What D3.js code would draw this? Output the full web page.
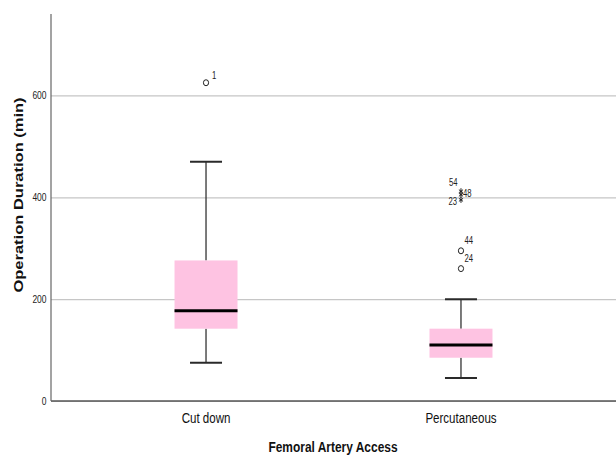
<!DOCTYPE html>
<html><head><meta charset="utf-8">
<script src="https://cdn.jsdelivr.net/npm/d3@7"></script>
<style>html,body{margin:0;padding:0;background:#fff;}svg{display:block;}</style>
</head><body><svg id="c" width="616" height="455"></svg>
<script>
// ---- data ----
const categories = ["Cut down", "Percutaneous"];
const whiskerLow = [75, 45];
const q1 = [142, 85];
const median = [177, 110];
const q3 = [276, 142];
const whiskerHigh = [470, 200];
const outlierCategory = ["Cut down", "Percutaneous", "Percutaneous", "Percutaneous", "Percutaneous", "Percutaneous"];
const outlierValue = [625, 295, 260, 412, 405, 395];
const outlierCase = ["1", "44", "24", "54", "48", "23"];
const outlierKind = ["mild", "mild", "mild", "extreme", "extreme", "extreme"];
const yTicks = [0, 200, 400, 600];
const yTitle = "Operation Duration (min)";
const xTitle = "Femoral Artery Access";

// ---- label placement (layout only) ----
const labelPlacement = {
  "1":  {dx: 6,   dy: -4,  anchor: "start"},
  "44": {dx: 3.5, dy: -7,  anchor: "start"},
  "24": {dx: 3.5, dy: -7,  anchor: "start"},
  "54": {dx: -3.5,dy: -5,  anchor: "end"},
  "48": {dx: 2,   dy: 2,   anchor: "start"},
  "23": {dx: -4,  dy: 5,   anchor: "end"}
};

const svg = d3.select("#c");
const W = 616, H = 455;
const L = 51, R = 616, T = 14, B = 401;
const SX = 0.77; // horizontal squeeze of text as in the reference
const sans = "'Liberation Sans',Arial,sans-serif";

svg.append("rect").attr("width", W).attr("height", H).attr("fill", "#ffffff");

const y = d3.scaleLinear().domain([0, 760]).range([B, T]);
const x = d3.scalePoint().domain(categories).range([L, R]).padding(0.608);

function sqText(g, tx, ty, str, size, anchor, weight, fill) {
  return g.append("text")
    .attr("transform", `translate(${tx},${ty}) scale(${SX},1)`)
    .attr("text-anchor", anchor)
    .attr("fill", fill || "#111")
    .style("font-family", sans).style("font-size", size + "px")
    .style("font-weight", weight || "normal")
    .text(str);
}

// gridlines
const yAxis = d3.axisLeft(y).tickValues(yTicks).tickSize(-(R - L)).tickFormat("");
const gy = svg.append("g").attr("transform", `translate(${L},0)`).call(yAxis);
gy.select(".domain").remove();
gy.selectAll(".tick text").remove();
gy.selectAll(".tick line").attr("stroke", "#c6c6c6").attr("stroke-width", 1.2);
// tick labels
const fmt = d3.format("d");
yTicks.forEach(t => sqText(svg, L - 4.5, y(t) + 4, fmt(t), 11, "end", "normal", "#222"));

// axis lines
svg.append("line").attr("x1", L).attr("x2", R).attr("y1", B).attr("y2", B)
  .attr("stroke", "#555").attr("stroke-width", 1.5);
svg.append("line").attr("x1", L).attr("x2", L).attr("y1", T).attr("y2", B)
  .attr("stroke", "#666").attr("stroke-width", 1.2);

// boxes
const boxW = 63, capW = 32;
const boxes = categories.map((c, i) => ({c, lo: whiskerLow[i], q1: q1[i], med: median[i], q3: q3[i], hi: whiskerHigh[i]}));
const gb = svg.append("g");
boxes.forEach(b => {
  const cx = x(b.c);
  gb.append("line").attr("x1", cx).attr("x2", cx).attr("y1", y(b.q3)).attr("y2", y(b.hi))
    .attr("stroke", "#333").attr("stroke-width", 1.3);
  gb.append("line").attr("x1", cx).attr("x2", cx).attr("y1", y(b.q1)).attr("y2", y(b.lo))
    .attr("stroke", "#333").attr("stroke-width", 1.3);
  gb.append("line").attr("x1", cx - capW / 2).attr("x2", cx + capW / 2).attr("y1", y(b.hi)).attr("y2", y(b.hi))
    .attr("stroke", "#2a2a2a").attr("stroke-width", 2);
  gb.append("line").attr("x1", cx - capW / 2).attr("x2", cx + capW / 2).attr("y1", y(b.lo)).attr("y2", y(b.lo))
    .attr("stroke", "#2a2a2a").attr("stroke-width", 2);
  gb.append("rect").attr("x", cx - boxW / 2).attr("width", boxW)
    .attr("y", y(b.q3)).attr("height", y(b.q1) - y(b.q3))
    .attr("fill", "#fec3e2");
  gb.append("line").attr("x1", cx - boxW / 2).attr("x2", cx + boxW / 2).attr("y1", y(b.med)).attr("y2", y(b.med))
    .attr("stroke", "#000").attr("stroke-width", 3);
});

// outliers
const outliers = outlierValue.map((v, i) => ({c: outlierCategory[i], v, id: outlierCase[i], kind: outlierKind[i]}));
const go = svg.append("g");
outliers.forEach(o => {
  const cx = x(o.c), cy = y(o.v);
  if (o.kind === "mild") {
    go.append("ellipse").attr("cx", cx).attr("cy", cy).attr("rx", 2.6).attr("ry", 3)
      .attr("fill", "none").attr("stroke", "#222").attr("stroke-width", 1);
  } else {
    const p = d3.path();
    const r = 3;
    for (let k = 0; k < 3; k++) {
      const a = Math.PI / 2 + k * Math.PI / 3;
      p.moveTo(cx + r * 0.8 * Math.cos(a), cy - r * Math.sin(a));
      p.lineTo(cx - r * 0.8 * Math.cos(a), cy + r * Math.sin(a));
    }
    go.append("path").attr("d", p.toString()).attr("stroke", "#222").attr("stroke-width", 1).attr("fill", "none");
  }
  const lp = labelPlacement[o.id];
  sqText(go, cx + lp.dx, cy + lp.dy, o.id, 10, lp.anchor, "normal", "#222");
});

// category labels
categories.forEach(c => sqText(svg, x(c), 423, c, 15, "middle", "normal", "#111"));

// axis titles
sqText(svg, 333, 452, xTitle, 15.5, "middle", "bold", "#111");

svg.append("text")
  .attr("transform", `translate(23,195) rotate(-90) scale(1,0.8)`)
  .attr("text-anchor", "middle")
  .attr("fill", "#111")
  .style("font-family", sans).style("font-size", "16.5px").style("font-weight", "bold")
  .text(yTitle);
</script>
</body></html>
